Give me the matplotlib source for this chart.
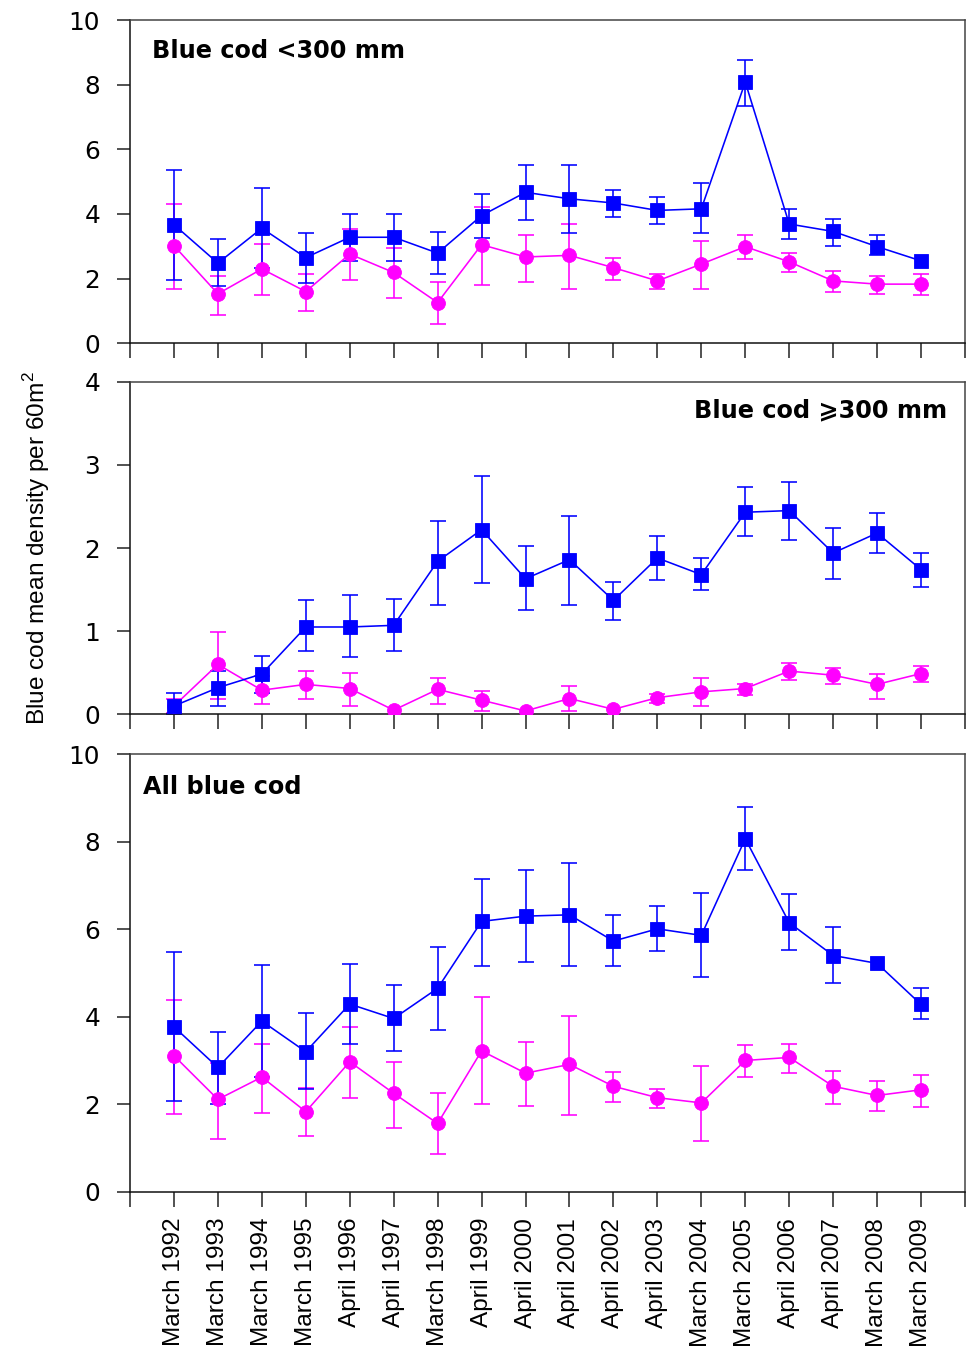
import numpy as np
import matplotlib
matplotlib.use("Agg")
import matplotlib.pyplot as plt

plt.rcParams["font.family"] = ["DejaVu Sans"]
plt.rcParams["mathtext.fontset"] = "custom"
plt.rcParams["mathtext.rm"] = "Liberation Sans"

nan = np.nan

labels = ["March 1992", "March 1993", "March 1994", "March 1995", "April 1996",
          "April 1997", "March 1998", "April 1999", "April 2000", "April 2001",
          "April 2002", "April 2003", "March 2004", "March 2005", "April 2006",
          "April 2007", "March 2008", "March 2009"]

# Panel 1: Blue cod <300 mm
p1_blue = [3.67, 2.48, 3.56, 2.65, 3.28, 3.28, 2.79, 3.95, 4.67, 4.47, 4.34, 4.11, 4.16, 8.08, 3.69, 3.46, 2.99, 2.55]
p1_blue_lo = [1.96, 1.78, 2.32, 1.86, 2.56, 2.56, 2.15, 3.26, 3.82, 3.41, 3.91, 3.69, 3.41, 7.33, 3.22, 3.02, 2.72, nan]
p1_blue_hi = [5.37, 3.22, 4.80, 3.41, 4.00, 4.00, 3.45, 4.63, 5.50, 5.50, 4.75, 4.52, 4.95, 8.77, 4.14, 3.86, 3.35, nan]
p1_pink = [3.02, 1.53, 2.30, 1.60, 2.76, 2.19, 1.26, 3.05, 2.67, 2.72, 2.34, 1.93, 2.45, 2.99, 2.52, 1.93, 1.83, 1.83]
p1_pink_lo = [1.67, 0.89, 1.50, 1.01, 1.96, 1.39, 0.60, 1.81, 1.90, 1.67, 1.96, 1.68, 1.68, 2.61, 2.19, 1.58, 1.53, 1.49]
p1_pink_hi = [4.30, 2.09, 3.07, 2.14, 3.53, 2.94, 1.90, 4.23, 3.35, 3.69, 2.65, 2.14, 3.17, 3.35, 2.79, 2.23, 2.09, 2.14]

# Panel 2: Blue cod >=300 mm
p2_blue = [0.10, 0.32, 0.485, 1.05, 1.05, 1.07, 1.84, 2.22, 1.63, 1.86, 1.37, 1.88, 1.68, 2.43, 2.45, 1.94, 2.18, 1.74]
p2_blue_lo = [0.00, 0.10, 0.26, 0.76, 0.69, 0.76, 1.32, 1.58, 1.25, 1.32, 1.14, 1.61, 1.49, 2.14, 2.10, 1.63, 1.94, 1.53]
p2_blue_hi = [0.26, 0.52, 0.70, 1.37, 1.43, 1.39, 2.33, 2.86, 2.02, 2.39, 1.59, 2.15, 1.88, 2.73, 2.79, 2.24, 2.42, 1.94]
p2_pink = [0.10, 0.60, 0.29, 0.36, 0.31, 0.05, 0.30, 0.17, 0.04, 0.19, 0.06, 0.20, 0.27, 0.31, 0.52, 0.47, 0.36, 0.49]
p2_pink_lo = [0.01, 0.19, 0.12, 0.19, 0.10, nan, 0.12, 0.04, nan, 0.04, nan, 0.14, 0.10, 0.23, 0.41, 0.36, 0.19, 0.39]
p2_pink_hi = [0.19, 0.99, 0.46, 0.52, 0.50, nan, 0.44, 0.28, nan, 0.34, nan, 0.25, 0.44, 0.36, 0.62, 0.56, 0.48, 0.58]

# Panel 3: All blue cod
p3_blue = [3.77, 2.84, 3.90, 3.20, 4.29, 3.96, 4.65, 6.18, 6.30, 6.33, 5.73, 6.01, 5.86, 8.07, 6.15, 5.40, 5.22, 4.28]
p3_blue_lo = [2.08, 2.01, 2.63, 2.35, 3.38, 3.21, 3.70, 5.17, 5.25, 5.15, 5.15, 5.50, 4.90, 7.36, 5.53, 4.77, nan, 3.94]
p3_blue_hi = [5.49, 3.66, 5.18, 4.08, 5.21, 4.73, 5.59, 7.14, 7.35, 7.52, 6.32, 6.53, 6.84, 8.80, 6.80, 6.05, nan, 4.66]
p3_pink = [3.11, 2.11, 2.62, 1.83, 2.97, 2.25, 1.56, 3.22, 2.71, 2.91, 2.41, 2.15, 2.03, 3.00, 3.07, 2.41, 2.20, 2.33]
p3_pink_lo = [1.77, 1.21, 1.81, 1.28, 2.14, 1.46, 0.87, 2.00, 1.97, 1.76, 2.04, 1.91, 1.15, 2.63, 2.71, 2.01, 1.84, 1.94]
p3_pink_hi = [4.38, 2.95, 3.38, 2.38, 3.77, 2.97, 2.25, 4.46, 3.42, 4.01, 2.73, 2.35, 2.87, 3.35, 3.38, 2.76, 2.52, 2.66]

titles = ["Blue cod <300 mm", "Blue cod \u2a7e300 mm", "All blue cod"]
ylims = [10, 4, 10]
yticks = [[0, 2, 4, 6, 8, 10], [0, 1, 2, 3, 4], [0, 2, 4, 6, 8, 10]]
ylabel = "Blue cod mean density per 60m$^{\\mathregular{2}}$"

BLUE = "#0000FF"
PINK = "#FF00FF"

fig = plt.figure(figsize=(9.67, 13.54), dpi=100)
W, H = 967.0, 1354.0
left, right = 130.0, 965.0
boxes = [(20.0, 343.3), (381.7, 714.3), (754.3, 1191.7)]

panels = [
    (p1_blue, p1_blue_lo, p1_blue_hi, p1_pink, p1_pink_lo, p1_pink_hi),
    (p2_blue, p2_blue_lo, p2_blue_hi, p2_pink, p2_pink_lo, p2_pink_hi),
    (p3_blue, p3_blue_lo, p3_blue_hi, p3_pink, p3_pink_lo, p3_pink_hi),
]

x = np.arange(len(labels))


def draw_series(ax, mean, lo, hi, color, marker, ms):
    mean = np.asarray(mean, float)
    lo = np.asarray(lo, float)
    hi = np.asarray(hi, float)
    ok = np.isfinite(lo) & np.isfinite(hi)
    ax.errorbar(x[ok], mean[ok], yerr=[mean[ok] - lo[ok], hi[ok] - mean[ok]],
                fmt="none", ecolor=color, elinewidth=1.15, capsize=5.8,
                capthick=1.15, zorder=2)
    ax.plot(x, mean, color=color, lw=1.15, marker=marker, ms=ms,
            mec=color, mfc=color, mew=0.6, zorder=3)


for i, (top, bot) in enumerate(boxes):
    ax = fig.add_axes([left / W, 1 - bot / H, (right - left) / W, (bot - top) / H])
    b, blo, bhi, p, plo, phi = panels[i]
    draw_series(ax, p, plo, phi, PINK, "o", 10)
    draw_series(ax, b, blo, bhi, BLUE, "s", 9.6)

    ax.set_xlim(-1, 18)
    ax.set_ylim(0, ylims[i])
    ax.set_yticks(yticks[i])
    ax.set_xticks(np.arange(-1, 19))
    if i == 2:
        ax.set_xticklabels([""] + labels + [""], rotation=90,
                           fontfamily="Liberation Sans", fontsize=17.6)
    else:
        ax.set_xticklabels([])
    ax.tick_params(axis="x", direction="out", length=10.8, width=1.1, pad=8,
                   color="#222222")
    ax.tick_params(axis="y", direction="out", length=9.6, width=1.1, pad=12,
                   labelsize=17.8, color="#222222")
    for s in ["left", "bottom"]:
        ax.spines[s].set_color("#111111")
        ax.spines[s].set_linewidth(1.1)
    for s in ["top", "right"]:
        ax.spines[s].set_color("#444444")
        ax.spines[s].set_linewidth(1.1)

    if i == 0:
        ax.text(0.026, 0.904, titles[0], transform=ax.transAxes, fontsize=17.3,
                fontweight="bold", ha="left", va="center")
    elif i == 1:
        ax.text(0.978, 0.915, titles[1], transform=ax.transAxes, fontsize=17.3,
                fontweight="bold", ha="right", va="center")
        ax.set_ylabel(ylabel, fontfamily="Liberation Sans", fontsize=17.6)
        ax.yaxis.set_label_coords(-0.094, 0.5)
    else:
        ax.text(0.015, 0.926, titles[2], transform=ax.transAxes, fontsize=17.3,
                fontweight="bold", ha="left", va="center")

fig.savefig("out.png", dpi=100)
